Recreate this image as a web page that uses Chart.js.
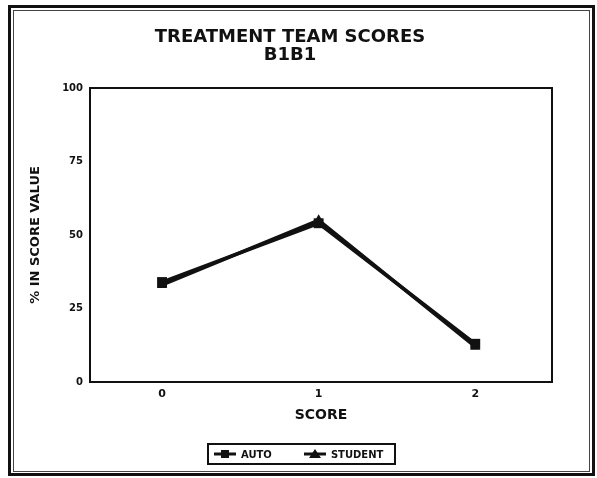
<!DOCTYPE html>
<html>
<head>
<meta charset="utf-8">
<script src="https://cdn.jsdelivr.net/npm/chart.js@4/dist/chart.umd.min.js"></script>
<style>
  html, body { margin: 0; padding: 0; background: #fff; }
  #wrap { position: relative; width: 597px; height: 478px; }
  #legend {
    position: absolute; left: 207px; top: 443px; height: 18px;
    border: 2px solid #111; display: flex; align-items: center;
    padding: 0 11px 0 5px;
    font: bold 10px 'DejaVu Sans', sans-serif; color: #111; white-space: nowrap;
  }
  #legend .item { display: flex; align-items: center; }
  #legend .item + .item { margin-left: 32px; }
  #legend canvas { margin-right: 5px; }
</style>
</head>
<body>
<div id="wrap">
  <canvas id="c" width="597" height="478"></canvas>
  <div id="legend"></div>
</div>
<script>
// Score categories on the x axis
const scores = [0, 1, 2];
// Percentage of the team in each score value
const autoValues = [34, 54, 13];
const studentValues = [33, 55, 12];
// Y axis tick labels
const yTicks = [0, 25, 50, 75, 100];
const seriesNames = ['AUTO', 'STUDENT'];
const markerStyles = ['rect', 'triangle'];

const FONT = "'DejaVu Sans', 'Liberation Sans', sans-serif";

// Small legend swatch: a line segment with the series marker in the middle
function swatch(kind) {
  const cv = document.createElement('canvas');
  cv.width = 22; cv.height = 12;
  const g = cv.getContext('2d');
  g.strokeStyle = '#111'; g.fillStyle = '#111'; g.lineWidth = 3;
  g.beginPath(); g.moveTo(0, 6); g.lineTo(22, 6); g.stroke();
  g.beginPath();
  if (kind === 'rect') {
    g.rect(7, 2, 8, 8);
  } else {
    g.moveTo(11, 1); g.lineTo(17, 10); g.lineTo(5, 10); g.closePath();
  }
  g.fill();
  return cv;
}

// Double frame around the page, plus top/right border of the plot box
const framePlugin = {
  id: 'frames',
  afterDraw(chart) {
    const ctx = chart.ctx;
    ctx.save();
    ctx.strokeStyle = '#111';
    ctx.lineWidth = 3;
    ctx.strokeRect(9.5, 6.5, 584, 468);
    ctx.lineWidth = 1;
    ctx.strokeStyle = '#444';
    ctx.strokeRect(13.5, 10.5, 576, 461);
    const a = chart.chartArea;
    ctx.strokeStyle = '#111';
    ctx.lineWidth = 2;
    ctx.beginPath();
    ctx.moveTo(a.left, a.top); ctx.lineTo(a.right, a.top); ctx.lineTo(a.right, a.bottom);
    ctx.stroke();
    ctx.restore();
  }
};

const chart = new Chart(document.getElementById('c'), {
  type: 'line',
  data: {
    datasets: [
      {
        label: seriesNames[0],
        data: scores.map((s, i) => ({ x: s, y: autoValues[i] })),
        borderColor: '#111', backgroundColor: '#111',
        borderWidth: 3.5, pointStyle: markerStyles[0], pointRadius: 7,
        pointBorderWidth: 0, tension: 0
      },
      {
        label: seriesNames[1],
        data: scores.map((s, i) => ({ x: s, y: studentValues[i] })),
        borderColor: '#111', backgroundColor: '#111',
        borderWidth: 3.5, pointStyle: markerStyles[1], pointRadius: 6,
        pointBorderWidth: 0, tension: 0
      }
    ]
  },
  options: {
    responsive: false,
    animation: false,
    devicePixelRatio: 1,
    layout: { padding: { left: 28, right: 45, top: 0, bottom: 54 } },
    plugins: {
      title: {
        display: true,
        text: ['TREATMENT TEAM SCORES', 'B1B1'],
        color: '#111',
        font: { family: FONT, size: 18, weight: 'bold', lineHeight: 1.0 },
        padding: { top: 28, bottom: 24 }
      },
      legend: { display: false },
      tooltip: { enabled: false }
    },
    scales: {
      x: {
        type: 'linear',
        min: -0.46,
        max: 2.49,
        afterBuildTicks(scale) { scale.ticks = scores.map(v => ({ value: v })); },
        grid: { display: false, drawOnChartArea: false, drawTicks: true, tickLength: 6, tickColor: '#111', tickWidth: 2 },
        border: { display: true, color: '#111', width: 2 },
        ticks: { color: '#111', font: { family: FONT, size: 11, weight: 'bold' }, padding: 0 },
        title: { display: true, text: 'SCORE', color: '#111', font: { family: FONT, size: 14, weight: 'bold' }, padding: { top: 6, bottom: 0 } }
      },
      y: {
        min: 0,
        max: 100,
        afterBuildTicks(scale) { scale.ticks = yTicks.map(v => ({ value: v })); },
        afterFit(scale) { scale.width = 62; },
        grid: { display: false, drawOnChartArea: false, drawTicks: true, tickLength: 6, tickColor: '#111', tickWidth: 2 },
        border: { display: true, color: '#111', width: 2 },
        ticks: { color: '#111', font: { family: FONT, size: 10, weight: 'bold' }, padding: 1 },
        title: { display: true, text: '% IN SCORE VALUE', color: '#111', font: { family: FONT, size: 13, weight: 'bold' }, padding: { top: 0, bottom: 0 } }
      }
    }
  },
  plugins: [framePlugin]
});

// Legend built from the chart's datasets
const legendEl = document.getElementById('legend');
chart.data.datasets.forEach((d, i) => {
  const item = document.createElement('div');
  item.className = 'item';
  item.appendChild(swatch(markerStyles[i]));
  const span = document.createElement('span');
  span.textContent = d.label;
  item.appendChild(span);
  legendEl.appendChild(item);
});
</script>
</body>
</html>
